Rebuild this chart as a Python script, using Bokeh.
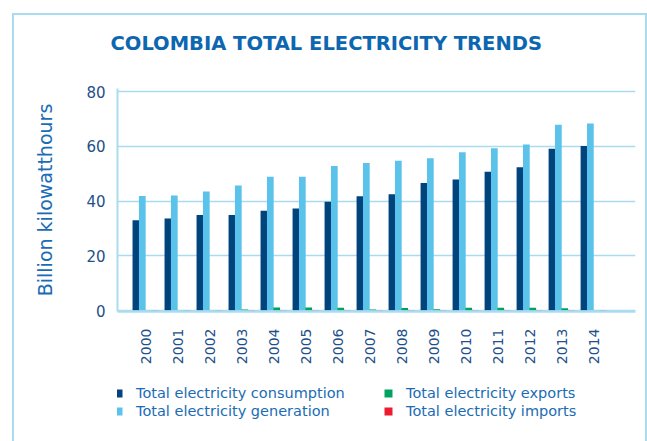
from bokeh.plotting import figure
from bokeh.layouts import column
from bokeh.models import (ColumnDataSource, FixedTicker, Legend, LegendItem,
                          InlineStyleSheet)
from bokeh.transform import dodge
from bokeh.embed import file_html
from bokeh.resources import INLINE

years = ["2000", "2001", "2002", "2003", "2004", "2005", "2006", "2007",
         "2008", "2009", "2010", "2011", "2012", "2013", "2014"]
consumption = [33.0, 33.6, 34.9, 34.9, 36.4, 37.3, 39.7, 41.7, 42.5, 46.6,
               47.9, 50.7, 52.3, 59.1, 60.1]
generation = [41.8, 42.0, 43.5, 45.7, 48.9, 48.9, 52.8, 53.9, 54.7, 55.6,
              57.8, 59.3, 60.6, 67.9, 68.3]
exports = [0.1, 0.1, 0.1, 0.4, 1.1, 1.1, 1.0, 0.4, 0.9, 0.5, 1.0, 1.0, 1.0,
           0.8, 0.1]
imports = [0.15, 0.15, 0.15, 0.15, 0.15, 0.15, 0.15, 0.15, 0.15, 0.15, 0.15,
           0.15, 0.15, 0.15, 0.15]

series_names = ["Total electricity consumption", "Total electricity generation",
                "Total electricity exports", "Total electricity imports"]
colors = ["#00437d", "#5bc3e9", "#00a262", "#ee1c2e"]

GRID = "#a9dcef"
TICK = "#23508a"
TEXT = "#1a6cb5"

xs = list(range(len(years)))
src = ColumnDataSource(dict(x=xs, consumption=consumption, generation=generation,
                            exports=exports, imports=imports))
fields = ["consumption", "generation", "exports", "imports"]
offsets = [-0.3, -0.1, 0.1, 0.3]

border_css = InlineStyleSheet(css="""
:host::after {
  content: "";
  position: absolute;
  left: 12px; top: 13px; right: 0px; bottom: -20px;
  border: 2px solid #a9dcef;
  pointer-events: none;
}
""")

p = figure(width=647, height=370, output_backend="svg", toolbar_location=None,
           x_range=(-0.875, 15.31), y_range=(-0.36, 81.1),
           min_border_left=117, min_border_right=12, min_border_top=88,
           min_border_bottom=59)
p.outline_line_color = None
p.background_fill_color = "white"
p.border_fill_color = "white"

p.title.text = "COLOMBIA TOTAL ELECTRICITY TRENDS"
p.title.align = "left"
p.title.vertical_align = "top"
p.title.offset = -7
p.title.text_font = "DejaVu Sans"
p.title.text_font_style = "bold"
p.title.text_font_size = "19.5px"
p.title.text_color = "#0d66b0"
p.title.standoff = 63

for f, off, c in zip(fields, offsets, colors):
    p.vbar(x=dodge("x", off), top=f, width=0.21, bottom=0, source=src,
           fill_color=c, line_color=None)

# axes
p.xaxis.ticker = FixedTicker(ticks=xs)
p.xaxis.major_label_overrides = {i: y for i, y in enumerate(years)}
p.xaxis.major_label_orientation = 3.14159265 / 2
p.xaxis.major_tick_line_color = None
p.xaxis.major_tick_out = 0
p.xaxis.major_tick_in = 0
p.xaxis.minor_tick_line_color = None
p.xaxis.axis_line_color = GRID
p.xaxis.axis_line_width = 2.5
p.xaxis.major_label_text_font = "DejaVu Sans"
p.xaxis.major_label_text_font_size = "14px"
p.xaxis.major_label_text_color = TICK
p.xaxis.major_label_standoff = 17

p.yaxis.ticker = FixedTicker(ticks=[0, 20, 40, 60, 80])
p.yaxis.major_tick_line_color = None
p.yaxis.major_tick_out = 0
p.yaxis.major_tick_in = 0
p.yaxis.minor_tick_line_color = None
p.yaxis.axis_line_color = GRID
p.yaxis.axis_line_width = 2
p.yaxis.major_label_text_font = "DejaVu Sans"
p.yaxis.major_label_text_font_size = "15px"
p.yaxis.major_label_text_color = TICK
p.yaxis.major_label_standoff = 12
p.yaxis.axis_label = "Billion kilowatthours"
p.yaxis.axis_label_text_font = "DejaVu Sans"
p.yaxis.axis_label_text_font_style = "normal"
p.yaxis.axis_label_text_font_size = "19px"
p.yaxis.axis_label_text_color = TEXT
p.yaxis.axis_label_standoff = 27

p.xgrid.grid_line_color = None
p.ygrid.grid_line_color = GRID
p.ygrid.grid_line_width = 1.5

# legend strip below the chart (its frame is aligned with the chart's frame)
q = figure(width=647, height=71, output_backend="svg", toolbar_location=None,
           x_range=(-0.875, 15.31), y_range=(1000, 1001), min_border=0,
           x_axis_location=None, y_axis_location=None)
q.outline_line_color = None
q.grid.grid_line_color = None
q.border_fill_color = "white"
q.background_fill_color = "white"

leg_rends = []
for f, off, c in zip(fields, offsets, colors):
    leg_rends.append(q.quad(left=dodge("x", off - 0.1), right=dodge("x", off + 0.1),
                            top=f, bottom=0, source=src, fill_color=c,
                            line_color=None))

for k, loc in [(0, (-4, 21)), (2, (266, 21))]:
    leg = Legend(items=[LegendItem(label=series_names[k], renderers=[leg_rends[k]]),
                        LegendItem(label=series_names[k + 1], renderers=[leg_rends[k + 1]])],
                 location=loc, orientation="vertical", padding=0, margin=0,
                 spacing=0, glyph_width=10, glyph_height=10, label_height=18,
                 label_standoff=13, border_line_color=None,
                 background_fill_alpha=0, label_text_font="DejaVu Sans",
                 label_text_font_size="14.5px", label_text_color=TEXT)
    q.add_layout(leg)

layout = column(p, q, spacing=0, stylesheets=[border_css])

open("out.html", "w").write(file_html(layout, INLINE))
